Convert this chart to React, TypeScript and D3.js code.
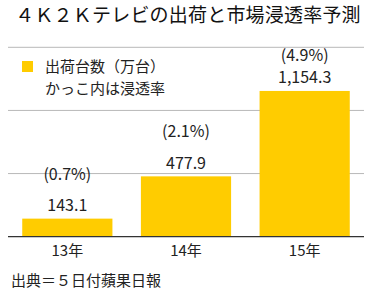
import React from "react";
import * as d3 from "d3";

const categories = ["13年", "14年", "15年"];
const shipments = [143.1, 477.9, 1154.3];
const shipmentLabels = ["143.1", "477.9", "1,154.3"];
const penetration = ["(0.7%)", "(2.1%)", "(4.9%)"];
const gridTicks = [500, 1000, 1500];

const W = 374;
const H = 294;
const FONT = "'Noto Sans CJK JP', 'Noto Sans', sans-serif";
const YELLOW = "#FFCC00";

export default function App() {
  const x = d3
    .scaleBand<string>()
    .domain(categories)
    .range([8, 364])
    .paddingInner(0.24)
    .paddingOuter(0.12);
  const y = d3.scaleLinear().domain([0, 1500]).range([236.7, 47.3]);

  return (
    <svg
      width={W}
      height={H}
      style={{ position: "fixed", left: 0, top: 0, background: "#fff" }}
      fontFamily={FONT}
    >
      <rect width={W} height={H} fill="#fff" />
      <text x={W / 2 + 1} y={22} textAnchor="middle" fontSize={19} letterSpacing={0.2} fill="#111">
        ４Ｋ２Ｋテレビの出荷と市場浸透率予測
      </text>
      {gridTicks.map((t) => (
        <line key={t} x1={8} x2={364} y1={y(t)} y2={y(t)} stroke="#b8b8b8" strokeWidth={1} />
      ))}
      {categories.map((c, i) => {
        const bx = x(c)!;
        const top = y(shipments[i]);
        const cx = bx + x.bandwidth() / 2;
        const pctY = Math.max(top - 39, 61);
        return (
          <g key={c}>
            <rect x={bx} y={top} width={x.bandwidth()} height={y(0) - top} fill={YELLOW} />
            <text x={cx} y={top - 7.5} textAnchor="middle" fontSize={16} fill="#222">
              {shipmentLabels[i]}
            </text>
            <text x={cx} y={pctY} textAnchor="middle" fontSize={16} fill="#222">
              {penetration[i]}
            </text>
            <text x={cx} y={256} textAnchor="middle" fontSize={15} fill="#222">
              {c}
            </text>
          </g>
        );
      })}
      <line x1={8} x2={364} y1={y(0)} y2={y(0)} stroke="#333" strokeWidth={1.2} />
      <rect x={22} y={61} width={11} height={11} fill={YELLOW} />
      <text x={45} y={71.5} fontSize={15} fill="#222">
        出荷台数（万台）
      </text>
      <text x={45} y={93.5} fontSize={15} fill="#222">
        かっこ内は浸透率
      </text>
      <text x={11} y={285.5} fontSize={15} fill="#222">
        出典＝５日付蘋果日報
      </text>
    </svg>
  );
}
